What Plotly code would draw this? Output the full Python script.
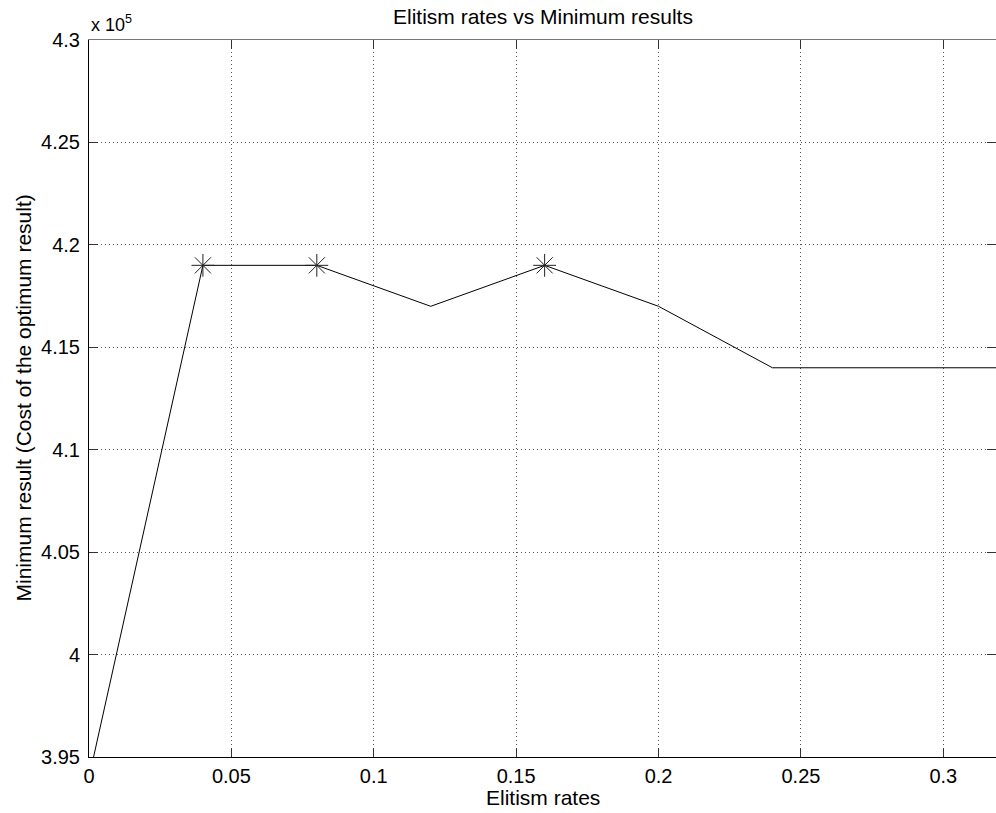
import plotly.graph_objects as go

# Elitism rate sweep and the best (minimum) cost found at each rate
elitism_rates = [0.0, 0.04, 0.08, 0.12, 0.16, 0.20, 0.24, 0.28, 0.32]
min_costs = [394000, 419000, 419000, 417000, 419000, 417000, 414000, 414000, 414000]

# Rates at which the highest minimum was reached (marked with asterisks)
peak_rates = [0.04, 0.08, 0.16]
peak_costs = [419000, 419000, 419000]

x_ticks = [0, 0.05, 0.1, 0.15, 0.2, 0.25, 0.3]
x_tick_text = ["0", "0.05", "0.1", "0.15", "0.2", "0.25", "0.3"]
y_ticks = [395000, 400000, 405000, 410000, 415000, 420000, 425000, 430000]
y_tick_text = ["3.95", "4", "4.05", "4.1", "4.15", "4.2", "4.25", "4.3"]

X_RANGE = [0, 0.3185]
Y_RANGE = [395000, 430000]

FONT = "Liberation Sans, Arial, sans-serif"
W, H = 996, 813
ML, MT, MB, MR = 89, 40, 56, 0
PW, PH = W - ML - MR, H - MT - MB

fig = go.Figure()
fig.add_trace(go.Scatter(
    x=elitism_rates, y=min_costs, mode="lines",
    line=dict(color="black", width=1), showlegend=False,
))
fig.add_trace(go.Scatter(
    x=peak_rates, y=peak_costs, mode="markers",
    marker=dict(symbol="asterisk-open", size=19, color="#222222",
                line=dict(color="#222222", width=1)),
    showlegend=False,
))
# empty trace so the top/right frame axes get drawn
fig.add_trace(go.Scatter(x=[], y=[], xaxis="x2", yaxis="y2", showlegend=False))

tick_style = dict(ticks="inside", ticklen=9, tickwidth=1, tickcolor="#333333")
grid_style = dict(showgrid=True, gridcolor="#555555", gridwidth=1, griddash="1px,3px")

fig.update_layout(
    width=W, height=H,
    margin=dict(l=ML, r=MR, t=MT, b=MB, pad=0),
    paper_bgcolor="white", plot_bgcolor="white",
    xaxis=dict(range=X_RANGE, tickvals=x_ticks, ticktext=x_tick_text,
               showline=True, linecolor="black", linewidth=1, zeroline=False,
               ticklabelstandoff=1,
               tickfont=dict(family=FONT, size=20, color="black"),
               **tick_style, **grid_style),
    yaxis=dict(range=Y_RANGE, tickvals=y_ticks, ticktext=y_tick_text,
               showline=True, linecolor="black", linewidth=1, zeroline=False,
               ticklabelstandoff=4,
               tickfont=dict(family=FONT, size=20, color="black"),
               **tick_style, **grid_style),
    xaxis2=dict(range=X_RANGE, overlaying="x", side="top", tickvals=x_ticks,
                showticklabels=False, showline=True, linecolor="#777777",
                linewidth=1, showgrid=False, zeroline=False, **tick_style),
    yaxis2=dict(range=Y_RANGE, overlaying="y", side="right", tickvals=y_ticks,
                showticklabels=False, showline=False, showgrid=False,
                zeroline=False, **tick_style),
    annotations=[
        dict(text="Elitism rates vs Minimum results", x=0.5, y=1 + (MT - 17) / PH,
             xref="paper", yref="paper", showarrow=False, xanchor="center", yanchor="middle",
             font=dict(family=FONT, size=21, color="black")),
        dict(text="Elitism rates", x=0.5, y=-(797 - MT - PH) / PH,
             xref="paper", yref="paper", showarrow=False, xanchor="center", yanchor="middle",
             font=dict(family=FONT, size=21, color="black")),
        dict(text="Minimum result (Cost of the optimum result)", x=-(ML - 23) / PW, y=0.5,
             xref="paper", yref="paper", showarrow=False, xanchor="center", yanchor="middle",
             textangle=-90, font=dict(family=FONT, size=21, color="black")),
        dict(text="x 10<sup>5</sup>", x=0.0, y=1 + (MT - 24) / PH,
             xref="paper", yref="paper", showarrow=False, xanchor="left", yanchor="middle",
             font=dict(family=FONT, size=18, color="black")),
    ],
)

fig.write_html("out.html")
